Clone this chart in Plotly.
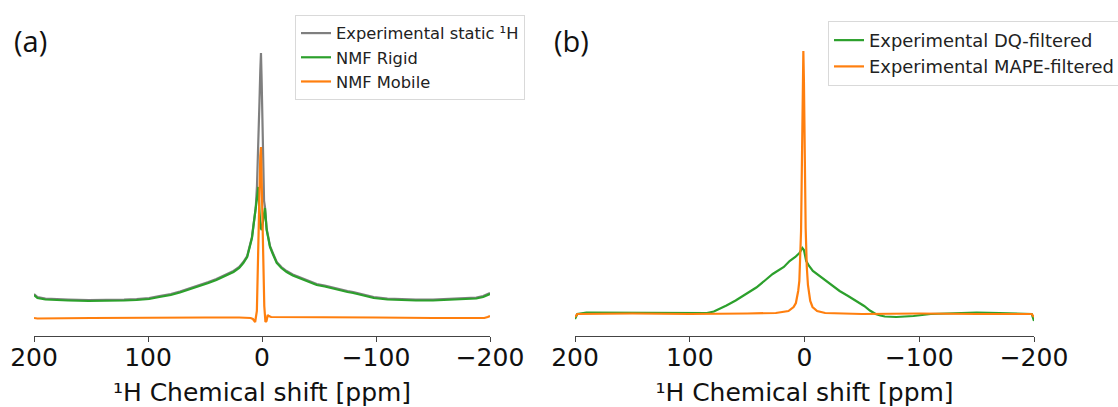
import plotly.graph_objects as go

# ---------------- Panel (a) data (ppm, intensity in arbitrary units) ----------------
a_exp_ppm = [200, 197, 190, 184, 170, 152, 135, 121, 110, 99, 90, 80, 72, 65, 58, 54, 47, 40, 33, 25, 20, 16.4, 13, 10.5, 8.8, 7.6, 6.5, 5.5, 4.4,
             3, 2.2, 1.5, 0.9, 0.3, -0.3, -1, -1.8, -2.6, -3.4, -4.1, -5.5, -7, -9.5, -12.9, -17, -21.6, -27, -33, -40, -48, -55, -60,
             -67, -75, -80, -90, -98, -110, -120, -135, -150, -165, -177, -188, -194, -198, -200]
a_exp_val = [42, 39, 37.5, 37, 36.5, 36, 36, 36.5, 37, 38, 40, 42, 44.5, 47, 50, 51, 54, 57, 61, 65, 69, 74, 80, 90, 99, 110, 120, 128, 150,
             195, 235, 265, 283, 255, 215, 170, 135, 129, 118, 107, 99, 90, 83, 74, 69, 65, 61.5, 59, 56, 52, 50.5, 49,
             47, 45, 44, 41, 39, 37.5, 37, 36.5, 36.5, 37, 37.5, 38.5, 40, 42, 43]

a_rigid_ppm = [200, 197, 190, 184, 170, 152, 135, 121, 110, 99, 90, 80, 72, 65, 58, 54, 47, 40, 33, 25, 20, 16.4, 13, 10.5, 8.8, 7.6, 6.5, 5.5, 4.4,
               3.2, 2.2, 1.2, 0.2, -0.8, -1.8, -2.6, -3.4, -4.1, -5.5, -7, -9.5, -12.9, -17, -21.6, -27, -33, -40, -48, -55, -60,
               -67, -75, -80, -90, -98, -110, -120, -135, -150, -165, -177, -188, -194, -198, -200]
a_rigid_val = [41, 38, 36.5, 36, 35.5, 35, 35, 35.5, 36, 37, 39, 41, 43.5, 46, 49, 50, 53, 56, 60, 64, 68, 73, 79, 89, 98, 109, 119, 127, 140,
               149, 125, 108, 106, 112, 122, 128, 117, 106, 98, 89, 82, 73, 68, 64, 60.5, 58, 55, 51, 49.5, 48,
               46, 44, 43, 40, 38, 36.5, 36, 35.5, 35.5, 36, 36.5, 37.5, 39, 41, 42]

a_mobile_ppm = [200, 197, 150, 100, 50, 20, 10, 8, 6, 4.5, 3.5, 2.5, 1.5, 0.9, 0.3, -0.3, -1, -2, -3, -4, -5, -6, -8, -20, -100, -150, -195, -198, -200]
a_mobile_val = [18, 17.5, 18, 18.5, 18.5, 18.5, 18, 17, 14, 25, 80, 150, 180, 189, 150, 106, 80, 30, 14, 15, 21, 20, 19, 19, 18.5, 18, 18, 19, 20]

# ---------------- Panel (b) data ----------------
b_dq_ppm = [200, 198, 190, 170, 150, 125, 100, 85, 79, 74, 68, 60, 52, 42, 34, 27.7, 18, 13, 8, 4.4, 1.9, 0.5, -1.5, -4, -7.3, -13, -19,
            -25, -30.6, -38, -45, -52, -57, -62, -66, -70, -80, -95, -110, -130, -150, -170, -190, -198, -200]
b_dq_val = [17, 22, 23.5, 23.5, 23.5, 23, 23, 23, 24.5, 27, 30.5, 35.5, 41.5, 48.5, 56, 62, 69, 75, 79, 83, 88, 86, 75, 70, 65, 60, 55,
            50, 45, 40, 35, 30, 25.5, 22, 20.5, 19.5, 19, 20, 22, 23, 23.5, 23, 22.5, 22, 15]

b_mape_ppm = [200, 198, 150, 100, 50, 25, 14, 9.5, 7.5, 5.5, 4.5, 3.5, 3, 2.5, 2, 1.5, 1, 0.5, 0, -0.5, -1, -2, -3, -5, -7, -11, -18, -50,
              -100, -150, -198, -200]
b_mape_val = [19, 22, 22.5, 22, 22.5, 23, 25, 29, 33, 45, 55, 80, 105, 150, 200, 255, 285, 255, 196, 144, 108, 69, 51, 35, 29, 25, 23, 22,
              22.5, 22, 22, 19]

tick_vals = [200, 100, 0, -100, -200]
tick_text = ["200", "100", "0", "\u2212100", "\u2212200"]
x_title = "\u00b9H Chemical shift [ppm]"

GRAY = "#7f7f7f"
GREEN = "#2ca02c"
ORANGE = "#ff7f0e"
LW = 2.2

fig = go.Figure()
fig.add_trace(go.Scatter(x=a_exp_ppm, y=a_exp_val, mode="lines", name="Experimental static \u00b9H",
                         line=dict(color=GRAY, width=LW), xaxis="x", yaxis="y", legend="legend", legendgroup="a1"))
fig.add_trace(go.Scatter(x=a_rigid_ppm, y=a_rigid_val, mode="lines", name="NMF Rigid",
                         line=dict(color=GREEN, width=LW), xaxis="x", yaxis="y", legend="legend", legendgroup="a2"))
fig.add_trace(go.Scatter(x=a_mobile_ppm, y=a_mobile_val, mode="lines", name="NMF Mobile",
                         line=dict(color=ORANGE, width=LW), xaxis="x", yaxis="y", legend="legend", legendgroup="a3"))
fig.add_trace(go.Scatter(x=b_dq_ppm, y=b_dq_val, mode="lines", name="Experimental DQ-filtered",
                         line=dict(color=GREEN, width=LW), xaxis="x2", yaxis="y2", legend="legend2", legendgroup="b1"))
fig.add_trace(go.Scatter(x=b_mape_ppm, y=b_mape_val, mode="lines", name="Experimental MAPE-filtered",
                         line=dict(color=ORANGE, width=LW), xaxis="x2", yaxis="y2", legend="legend2", legendgroup="b2"))

W, H = 1118, 407
FONT = "DejaVu Sans"

def xaxis_cfg(x0, x1, anchor):
    return dict(domain=[x0 / W, x1 / W], range=[200, -200], anchor=anchor,
                tickmode="array", tickvals=tick_vals, ticktext=tick_text,
                showline=True, linecolor="#444", linewidth=1,
                ticks="outside", ticklen=5, tickwidth=1, tickcolor="#444",
                showgrid=False, zeroline=False, ticklabelstandoff=-6,
                tickfont=dict(family=FONT, size=25, color="#111"),
                title=dict(text=x_title, font=dict(family=FONT, size=25, color="#111"), standoff=15))

def yaxis_cfg(anchor):
    return dict(domain=[(H - 336) / H, (H - 20) / H], range=[0, 316], visible=False, anchor=anchor)

legend_common = dict(bgcolor="white", bordercolor="#d9d9d9", borderwidth=1, xanchor="left", yanchor="top",
                     traceorder="grouped", tracegroupgap=0)

fig.update_layout(
    width=W, height=H,
    margin=dict(l=0, r=0, t=0, b=0, autoexpand=False),
    paper_bgcolor="white", plot_bgcolor="white",
    xaxis=xaxis_cfg(34, 490, "y"),
    yaxis=yaxis_cfg("x"),
    xaxis2=xaxis_cfg(575, 1034, "y2"),
    yaxis2=yaxis_cfg("x2"),
    legend=dict(x=295 / W, y=1 - 15 / H, font=dict(family=FONT, size=16.3, color="#222"), **legend_common),
    legend2=dict(x=828 / W, y=1 - 21 / H, font=dict(family=FONT, size=17.9, color="#222"), **legend_common),
    showlegend=True,
    annotations=[
        dict(text="(a)", x=12 / W, y=1 - 40 / H, xref="paper", yref="paper", xanchor="left", yanchor="middle",
             showarrow=False, font=dict(family="Open Sans", size=29, color="#111")),
        dict(text="(b)", x=552 / W, y=1 - 40 / H, xref="paper", yref="paper", xanchor="left", yanchor="middle",
             showarrow=False, font=dict(family="Open Sans", size=29, color="#111")),
    ],
)

fig.write_html("out.html", config={"displayModeBar": False},
               post_script="document.body.style.margin='0';document.body.style.overflow='hidden';")
